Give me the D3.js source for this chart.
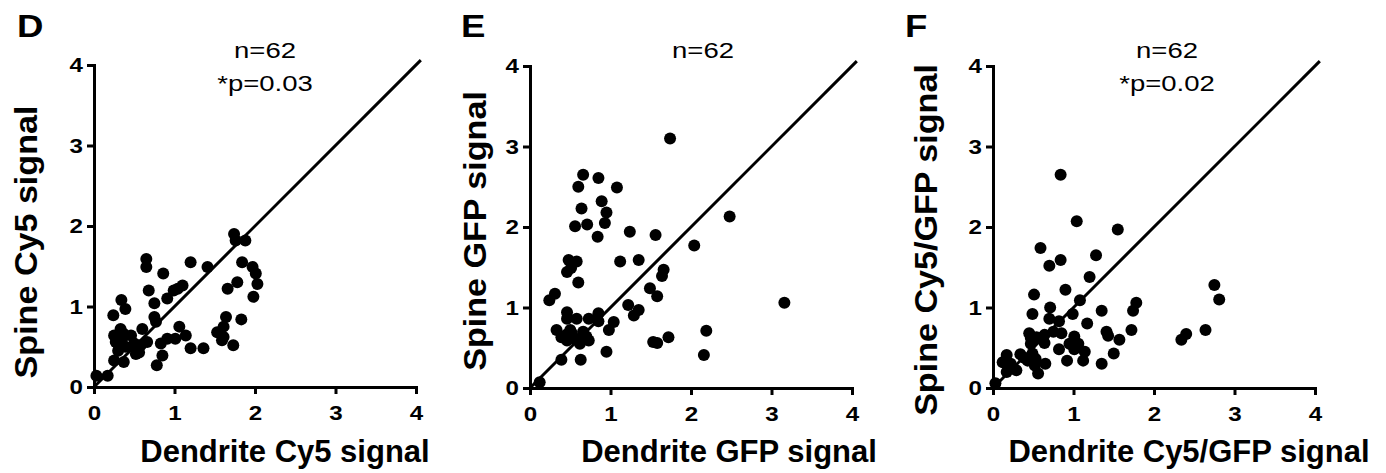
<!DOCTYPE html>
<html>
<head>
<meta charset="utf-8">
<script src="https://cdn.jsdelivr.net/npm/d3@7"></script>
<style>
  html, body { margin: 0; padding: 0; background: #fff; }
  svg { display: block; }
  text { font-family: "Liberation Sans", Arial, sans-serif; fill: #000; }
</style>
</head>
<body>
<svg id="chart" width="1386" height="473"></svg>
<script>
// ---------------- DATA ----------------
const tickValues = [0, 1, 2, 3, 4];

// Panel D: Dendrite Cy5 (x) vs Spine Cy5 (y)
const dendriteCy5 = [0.03,0.17,0.25,0.37,0.24,0.34,0.39,0.25,0.33,0.29,0.35,0.46,0.31,0.39,0.52,0.58,0.66,0.60,0.65,0.65,0.68,0.75,0.75,0.77,0.86,0.91,0.99,1.10,1.20,1.41,0.83,0.85,0.78,0.91,1.01,1.06,1.14,1.20,1.36,1.53,1.61,1.64,1.61,1.59,1.73,1.83,1.66,1.78,1.74,1.76,1.88,1.84,1.97,2.01,2.03,1.98,0.37,0.50,0.56,0.27,1.04,0.30];
const spineCy5    = [0.14,0.14,0.33,0.31,0.89,1.08,0.97,0.64,0.72,0.62,0.60,0.64,0.52,0.50,0.41,0.52,0.56,0.72,1.59,1.49,1.20,1.04,0.87,0.81,1.41,1.10,1.20,1.26,1.55,1.49,0.54,0.39,0.27,0.60,0.60,0.75,0.64,0.48,0.48,0.68,0.62,0.87,0.75,0.58,0.52,0.84,1.22,1.30,1.90,1.82,1.82,1.55,1.49,1.41,1.28,1.12,0.66,0.54,0.43,0.56,1.22,0.45];

// Panel E: Dendrite GFP (x) vs Spine GFP (y)
const dendriteGFP = [0.12,1.74,0.66,0.85,0.60,1.08,0.89,0.64,0.95,0.93,0.56,0.71,0.84,1.24,1.56,0.48,0.58,0.46,0.51,0.60,1.12,1.35,1.66,1.64,1.49,1.58,0.31,0.24,1.22,1.35,1.29,0.46,0.46,0.58,0.73,0.85,0.85,1.04,0.98,0.33,0.39,0.50,0.46,0.56,0.66,0.62,0.73,0.39,0.63,0.95,1.58,1.72,2.04,2.48,3.16,2.19,2.16,0.52,0.70,0.45,1.53,0.62];
const spineGFP    = [0.07,3.10,2.65,2.61,2.50,2.49,2.32,2.23,2.18,2.05,2.01,2.03,1.88,1.94,1.90,1.59,1.57,1.44,1.49,1.31,1.57,1.59,1.47,1.39,1.24,1.14,1.17,1.09,1.03,0.97,0.90,0.94,0.86,0.86,0.86,0.93,0.83,0.82,0.72,0.72,0.63,0.72,0.59,0.61,0.70,0.55,0.59,0.35,0.35,0.45,0.56,0.63,1.77,2.13,1.06,0.71,0.41,0.68,0.64,0.66,0.57,0.60];

// Panel F: Dendrite Cy5/GFP (x) vs Spine Cy5/GFP (y)
const dendriteRatio = [0.03,0.84,1.04,1.55,0.59,0.84,0.70,1.28,1.20,0.90,1.08,0.51,0.49,0.71,0.70,0.82,0.99,1.35,1.17,0.85,0.45,0.54,0.64,0.47,0.64,1.01,1.06,1.41,1.43,1.57,1.72,1.74,1.78,0.82,1.01,1.14,0.92,1.12,1.35,1.50,0.17,0.12,0.17,0.29,0.34,0.43,0.53,0.52,0.56,0.65,0.49,2.75,2.81,2.64,2.40,2.34,0.38,0.60,0.47,0.22,0.75,0.95];
const spineRatio    = [0.06,2.65,2.07,1.97,1.74,1.59,1.52,1.65,1.38,1.22,1.09,1.16,0.92,1.00,0.86,0.83,0.92,0.96,0.80,0.68,0.68,0.63,0.66,0.55,0.56,0.64,0.55,0.70,0.65,0.60,0.72,0.96,1.06,0.48,0.48,0.45,0.34,0.34,0.30,0.43,0.41,0.32,0.20,0.22,0.42,0.34,0.36,0.28,0.18,0.30,0.43,1.28,1.10,0.72,0.67,0.60,0.38,0.62,0.62,0.30,0.70,0.55];

const panelLetters = ["D", "E", "F"];
const xTitles = ["Dendrite Cy5 signal", "Dendrite GFP signal", "Dendrite Cy5/GFP signal"];
const yTitles = ["Spine Cy5 signal", "Spine GFP signal", "Spine Cy5/GFP signal"];
const statLines = [["n=62", "*p=0.03"], ["n=62"], ["n=62", "*p=0.02"]];
const xSeries = [dendriteCy5, dendriteGFP, dendriteRatio];
const ySeries = [spineCy5, spineGFP, spineRatio];

// ---------------- LAYOUT ----------------
const layout = [
  { x0: 94,  y0: 387, letterX: 17,  yTitleX: 37,  yTitleY: 242, xTitleX: 285,  statX: 265 },
  { x0: 530, y0: 388, letterX: 461, yTitleX: 486, yTitleY: 231, xTitleX: 729,  statX: 703 },
  { x0: 993, y0: 388, letterX: 905, yTitleX: 937, yTitleY: 240, xTitleX: 1189, statX: 1167 }
];
const unit = 80.5;
const wide = 1.25;    // horizontal stretch of the reference's annotation text
const tickWide = 1.15;

const svg = d3.select("#chart");

function stretchedText(g, x, y, sx, str) {
  return g.append("text")
    .attr("transform", `translate(${x},${y}) scale(${sx},1)`)
    .text(str);
}

layout.forEach((L, i) => {
  const g = svg.append("g");
  const x = d3.scaleLinear().domain([0, 4]).range([L.x0, L.x0 + 4 * unit]);
  const y = d3.scaleLinear().domain([0, 4]).range([L.y0, L.y0 - 4 * unit]);

  // axes
  const xAxis = g.append("g")
    .attr("transform", `translate(0,${L.y0})`)
    .call(d3.axisBottom(x).tickValues(tickValues).tickFormat(d3.format("d")).tickSizeInner(7).tickSizeOuter(0).tickPadding(11));
  const yAxis = g.append("g")
    .attr("transform", `translate(${L.x0},0)`)
    .call(d3.axisLeft(y).tickValues(tickValues).tickFormat(d3.format("d")).tickSizeInner(7).tickSizeOuter(0).tickPadding(4));
  [xAxis, yAxis].forEach(a => {
    a.attr("font-size", null).attr("font-family", null);
    a.select(".domain").attr("stroke", "#000").attr("stroke-width", 3).attr("stroke-linecap", "square");
    a.selectAll(".tick line").attr("stroke", "#000").attr("stroke-width", 3);
    a.selectAll(".tick text")
      .style("font-family", "'Liberation Sans', Arial, sans-serif")
      .style("font-size", "21px")
      .style("font-weight", "bold")
      .attr("fill", "#000");
  });
  xAxis.selectAll(".tick text").attr("transform", `scale(${tickWide},1)`);
  yAxis.selectAll(".tick text").attr("x", -11 / tickWide).attr("transform", `scale(${tickWide},1)`);

  // identity line
  g.append("line")
    .attr("x1", x(0)).attr("y1", y(0))
    .attr("x2", x(4.06)).attr("y2", y(4.06))
    .attr("stroke", "#000").attr("stroke-width", 3);

  // points
  const pts = xSeries[i].map((v, k) => [v, ySeries[i][k]]);
  g.append("g").selectAll("circle").data(pts).join("circle")
    .attr("cx", d => x(d[0])).attr("cy", d => y(d[1]))
    .attr("r", 6).attr("fill", "#000");

  // panel letter
  stretchedText(g, L.letterX, 37, 1.18, panelLetters[i])
    .style("font-size", "31px").style("font-weight", "bold");

  // stats
  statLines[i].forEach((s, k) => {
    stretchedText(g, L.statX, 58 + k * 33, wide, s)
      .attr("text-anchor", "middle").style("font-size", "22px");
  });

  // axis titles
  g.append("text").attr("x", L.xTitleX).attr("y", 462)
    .attr("text-anchor", "middle").style("font-size", "31px").style("font-weight", "bold")
    .text(xTitles[i]);
  g.append("text")
    .attr("transform", `translate(${L.yTitleX},${L.yTitleY}) rotate(-90) scale(1.1,1)`)
    .attr("text-anchor", "middle").style("font-size", "31px").style("font-weight", "bold")
    .text(yTitles[i]);
});
</script>
</body>
</html>
